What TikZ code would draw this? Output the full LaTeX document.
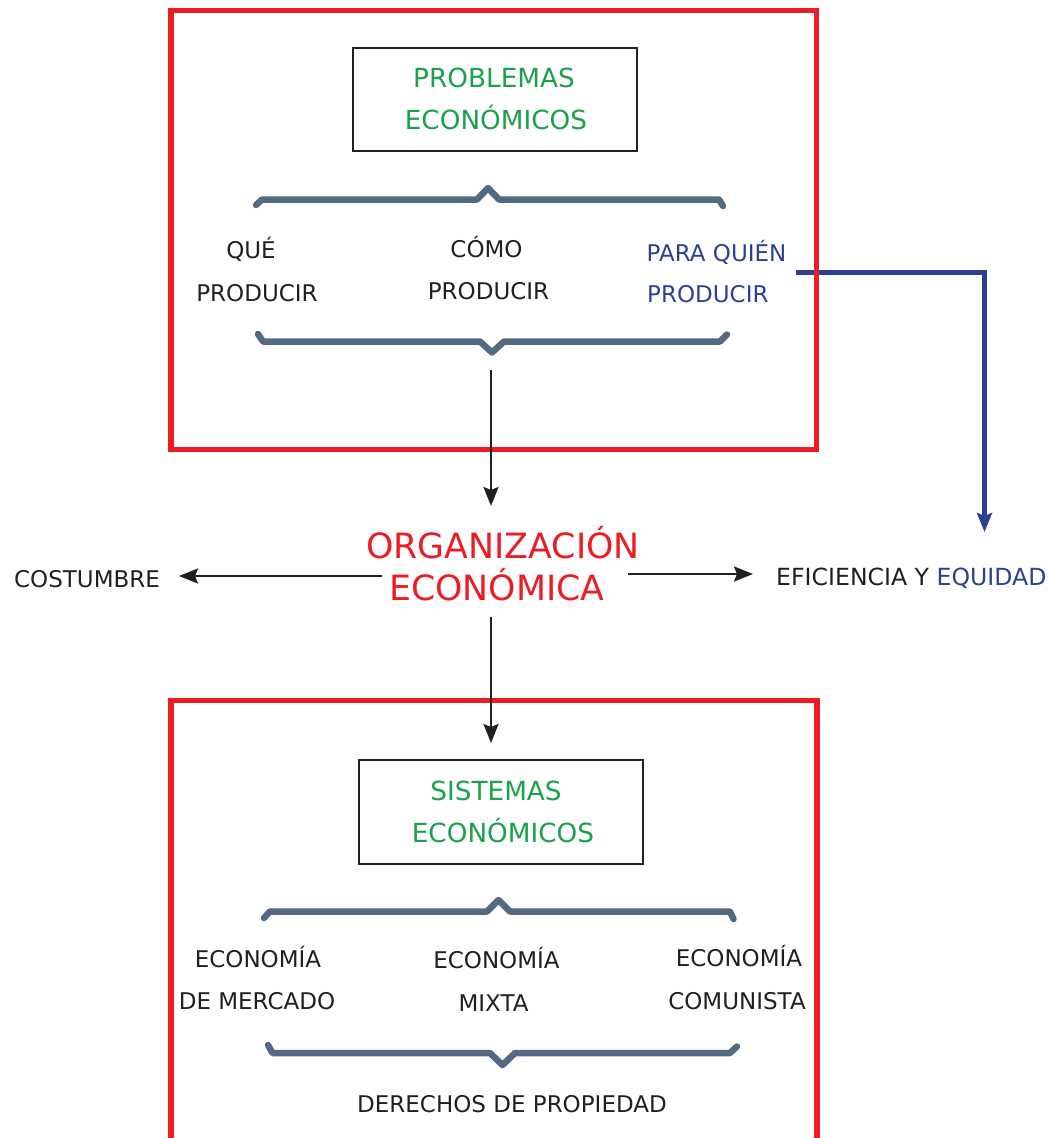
\documentclass[tikz,border=0pt]{standalone}
\usepackage{fontspec}
\setmainfont{DejaVu Sans}
\usetikzlibrary{arrows.meta}
\definecolor{redc}{HTML}{ED1C24}
\definecolor{greenc}{HTML}{1BA14B}
\definecolor{bluec}{HTML}{2B3F97}
\definecolor{bracec}{HTML}{546A80}
\definecolor{textc}{HTML}{231F20}
\begin{document}
\begin{tikzpicture}[x=1pt,y=-1pt,
  lbl/.style={anchor=base, inner sep=0pt, text=textc, font=\fontsize{23}{28}\selectfont},
  lblleft/.style={lbl, anchor=base west},
  grn/.style={lbl, text=greenc, font=\fontsize{26.3}{31}\selectfont},
  orgtxt/.style={lbl, text=redc, font=\fontsize{34.8}{40}\selectfont},
  frame/.style={draw=redc, line width=5.5pt},
  titlebox/.style={draw=textc, line width=2.5pt, inner sep=0pt},
  bracepath/.style={draw=bracec, line width=6.5pt, line cap=round, line join=round},
  arr/.style={draw=textc, line width=2.6pt, -{Stealth[length=19pt,width=15pt,inset=3pt]}},
  barr/.style={draw=bluec, line width=4.5pt, -{Stealth[length=19pt,width=15pt,inset=3pt]}},
]
\useasboundingbox (0,0) rectangle (1047,1138);
\clip (0,0) rectangle (1047,1138);

% coordinates for connector ends
\coordinate (bstart) at (795.5,272.5);
\coordinate (bend) at (984.5,532);
\coordinate (a1s) at (491,370);
\coordinate (a1e) at (491,506);
\coordinate (a2s) at (491,617);
\coordinate (a2e) at (491,743);
\coordinate (als) at (382,576);
\coordinate (ale) at (179,576);
\coordinate (ars) at (628,574);
\coordinate (are) at (753,574);

% blue connector
\draw[barr] (bstart) -| (bend);

% red frames
\draw[frame] (171,10.5) rectangle (816.5,449.5);
\draw[frame] (171,1160) -- (171,700.5) -- (817,700.5) -- (817,1160);

% black arrows
\draw[arr] (a1s) -- (a1e);
\draw[arr] (a2s) -- (a2e);
\draw[arr] (als) -- (ale);
\draw[arr] (ars) -- (are);

% braces
\draw[bracepath] (256,205) -- (262,199.5) -- (477,199.5) -- (488,188) -- (499,199.5) -- (719,199.5) -- (723,206);
\draw[bracepath] (258,334) -- (263,341.5) -- (480,341.5) -- (492,352.5) -- (504,341.5) -- (720,341.5) -- (727,334.5);
\draw[bracepath] (264,918) -- (270,911.5) -- (487,911.5) -- (498.5,900) -- (510,911.5) -- (730,911.5) -- (733.5,919);
\draw[bracepath] (268,1045) -- (272.5,1053) -- (490,1053) -- (502.5,1065) -- (515,1053) -- (730,1053) -- (737,1046.5);

% title boxes
\node[titlebox, minimum width=284pt, minimum height=103pt] (pbox) at (495,99.5) {};
\node[titlebox, minimum width=284pt, minimum height=104pt] (sbox) at (501,812) {};

% texts
\node[grn] (p1) at (494,87) {PROBLEMAS};
\node[grn] (p2) at (496,129) {ECONÓMICOS};
\node[lbl] (q1) at (251,258) {QUÉ};
\node[lbl] (q2) at (257,301) {PRODUCIR};
\node[lbl] (c1) at (486.5,257) {CÓMO};
\node[lbl] (c2) at (488.5,299) {PRODUCIR};
\node[lblleft, text=bluec] (w1) at (646.5,261) {PARA QUIÉN};
\node[lblleft, text=bluec] (w2) at (647,302) {PRODUCIR};
\node[orgtxt] (o1) at (503,558) {ORGANIZACIÓN};
\node[orgtxt] (o2) at (497,600) {ECONÓMICA};
\node[lbl] (cos) at (87,587) {COSTUMBRE};
\node[lblleft, font=\fontsize{23.6}{28}\selectfont] (ef) at (776,585) {EFICIENCIA Y \textcolor{bluec}{EQUIDAD}};
\node[grn] (s1) at (496,800) {SISTEMAS};
\node[grn] (s2) at (503,842) {ECONÓMICOS};
\node[lbl] (m1) at (258,967) {ECONOMÍA};
\node[lbl] (m2) at (257,1009) {DE MERCADO};
\node[lbl] (x1) at (496.5,968) {ECONOMÍA};
\node[lbl] (x2) at (493.5,1011) {MIXTA};
\node[lbl] (k1) at (739,966) {ECONOMÍA};
\node[lbl] (k2) at (737,1009) {COMUNISTA};
\node[lbl] (der) at (512,1112) {DERECHOS DE PROPIEDAD};
\end{tikzpicture}
\end{document}
